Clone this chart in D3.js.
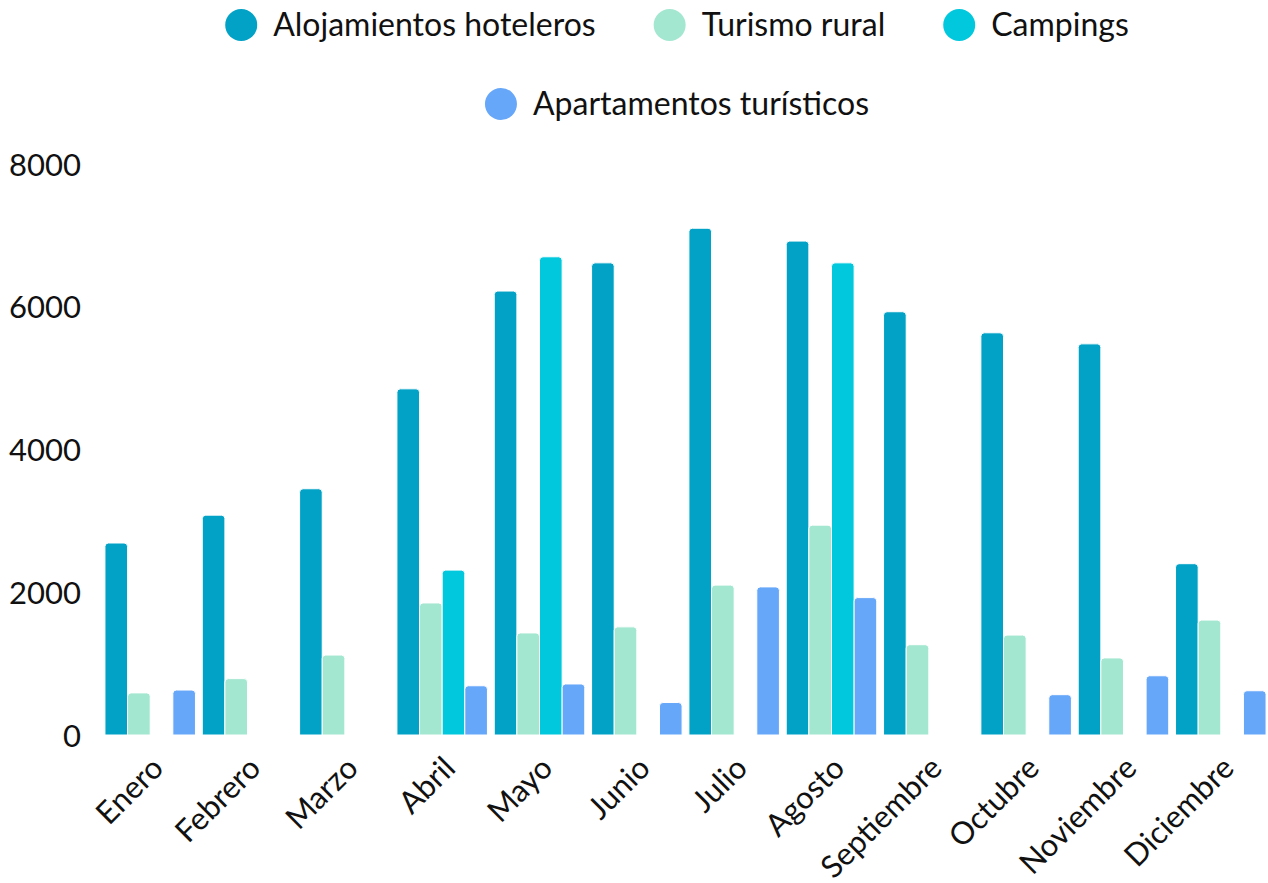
<!DOCTYPE html>
<html>
<head>
	<meta charset="UTF-8" />
	<title>grouped bars</title>
	<script src="https://d3js.org/d3.v7.min.js"></script>
	<style type="text/css">
		body{margin:0; background:#fff;}
		text{font-family: Lato, "Noto Sans", sans-serif; fill:#111;}
	</style>
</head>
<body>
	<svg id="chart"></svg>

	<script type="text/javascript">
	// data (null = no bar)
	var months = ["Enero","Febrero","Marzo","Abril","Mayo","Junio","Julio","Agosto","Septiembre","Octubre","Noviembre","Diciembre"]
	var seriesNames = ["Alojamientos hoteleros","Turismo rural","Campings","Apartamentos turísticos"]
	var colors = ["#01a2c6","#a3e7d0","#01c8dc","#67a7f9"]
	var hoteleros = [2690, 3080, 3450, 4850, 6220, 6615, 7100, 6920, 5930, 5635, 5480, 2400]
	var rural = [590, 790, 1120, 1850, 1430, 1515, 2100, 2940, 1265, 1400, 1080, 1610]
	var campings = [null, null, null, 2310, 6700, null, null, 6615, null, null, null, null]
	var apartamentos = [630, null, null, 690, 715, 455, 2075, 1925, null, 565, 830, 620]
	var yTicks = [0, 2000, 4000, 6000, 8000]

	var allSeries = [hoteleros, rural, campings, apartamentos]

	var w = 1268
	var h = 883
	var margin = {top: 164, right: 0, bottom: 148, left: 103}
	var height = h - margin.top - margin.bottom
	var fontSize = "31px"

	var svg = d3.select("#chart").attr("width", w).attr("height", h)

	var x0 = d3.scaleBand().domain(months).range([margin.left, w - margin.right]).paddingInner(0.07).paddingOuter(0.02)
	var x1 = d3.scaleBand().domain(d3.range(4)).range([0, x0.bandwidth()])
	var y = d3.scaleLinear().domain([0, 8000]).range([margin.top + height, margin.top])

	// bar with rounded top corners
	function barPath(x, yTop, bw, yBase, r){
		r = Math.min(r, (yBase - yTop))
		return "M"+x+","+yBase+"V"+(yTop+r)+"Q"+x+","+yTop+" "+(x+r)+","+yTop
			+"H"+(x+bw-r)+"Q"+(x+bw)+","+yTop+" "+(x+bw)+","+(yTop+r)+"V"+yBase+"Z"
	}

	var bars = []
	months.forEach((m, i)=>{
		allSeries.forEach((s, k)=>{
			if (s[i] != null) bars.push({month: m, k: k, value: s[i]})
		})
	})

	svg.append("g").selectAll("path")
		.data(bars)
		.enter()
		.append("path")
		.attr("d", d=>barPath(x0(d.month) + x1(d.k), y(d.value), x1.bandwidth(), y(0), 3.5))
		.attr("fill", d=>colors[d.k])
		.attr("stroke", "#fff")
		.attr("stroke-width", 1)

	// y axis (labels only)
	var yAxis = svg.append("g")
		.attr("transform", "translate(" + 81 + ",0)")
		.call(d3.axisLeft(y).tickValues(yTicks).tickFormat(d3.format("d")).tickSize(0).tickPadding(0))
	yAxis.select(".domain").remove()
	yAxis.selectAll("text").style("font-size", fontSize).style("font-family", "Lato").attr("fill", "#111").attr("dy", "0.36em")

	// x axis labels, rotated
	svg.append("g").selectAll("text")
		.data(months)
		.enter()
		.append("text")
		.attr("text-anchor", "end")
		.attr("transform", d=>"translate(" + (x0(d) + x0.bandwidth()/2 + 15) + "," + 770 + ") rotate(-45)")
		.style("font-size", fontSize)
		.text(d=>d)

	// legend: two rows centred
	var legendRows = [[0,1,2],[3]]
	var legendY = [25, 104]
	var legendCenter = 677
	legendRows.forEach((row, ri)=>{
		var g = svg.append("g")
		var cx = 0
		row.forEach((k, j)=>{
			var item = g.append("g").attr("transform", "translate(" + cx + ",0)")
			item.append("circle").attr("cx", 16).attr("cy", 0).attr("r", 16).attr("fill", colors[k])
			var t = item.append("text").attr("x", 48).attr("y", 0).attr("dy", "0.35em")
				.style("font-size", "32px").text(seriesNames[k])
			cx += 48 + t.node().getComputedTextLength() + 58
		})
		var total = cx - 58
		g.attr("transform", "translate(" + (legendCenter - total/2) + "," + legendY[ri] + ")")
	})
	</script>
</body>
</html>
